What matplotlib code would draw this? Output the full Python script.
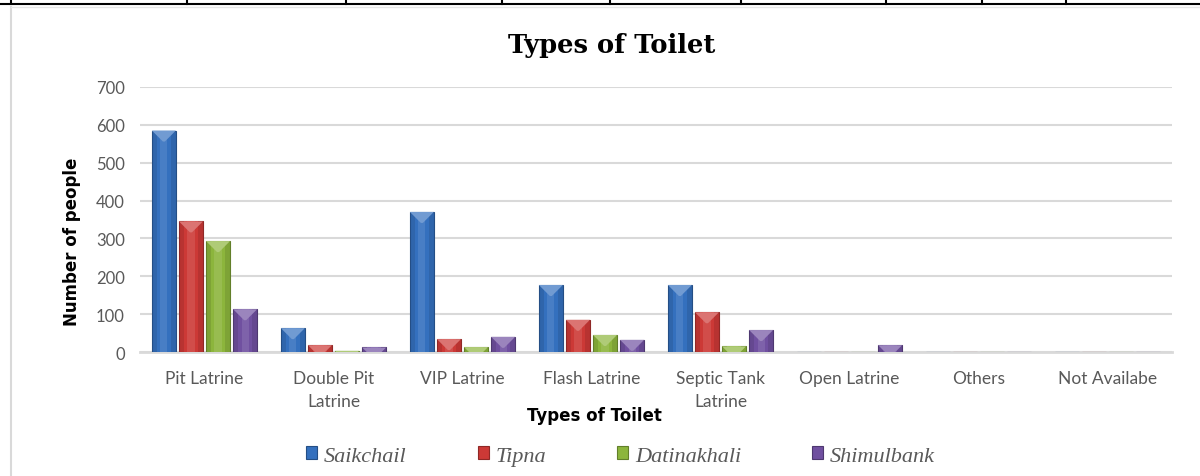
import numpy as np
import matplotlib.pyplot as plt
from matplotlib.patches import Polygon, Rectangle
from matplotlib.lines import Line2D
import matplotlib.colors as mcolors

categories = ["Pit Latrine", "Double Pit\nLatrine", "VIP Latrine", "Flash Latrine",
              "Septic Tank\nLatrine", "Open Latrine", "Others", "Not Availabe"]
saikchail = [585, 63, 370, 177, 177, 0, 0, 0]
tipna = [345, 18, 34, 85, 105, 0, 0, 0]
datinakhali = [293, 3, 13, 45, 15, 0, 0, 0]
shimulbank = [113, 12, 40, 32, 58, 18, 0, 0]

series = [("Saikchail", saikchail, "#3470BE"),
          ("Tipna", tipna, "#CC3936"),
          ("Datinakhali", datinakhali, "#8CB53C"),
          ("Shimulbank", shimulbank, "#7050A0")]

W, H, DPI = 1200, 477, 100
fig = plt.figure(figsize=(W / DPI, H / DPI), dpi=DPI)
ax = fig.add_axes([140 / W, 1 - 353 / H, 1032 / W, 265 / H])

ax.set_xlim(-0.5, len(categories) - 0.5)
ax.set_ylim(0, 700)

# pixel -> data conversions used for the bevelled tops
px_x = (len(categories)) / 1032
px_y = 700 / 265

step = 0.21
width = 0.186
x = np.arange(len(categories))


def shade(c, f):
    r, g, b = mcolors.to_rgb(c)
    if f >= 1:
        return (r + (1 - r) * (f - 1), g + (1 - g) * (f - 1), b + (1 - b) * (f - 1))
    return (r * f, g * f, b * f)


for i, (name, vals, col) in enumerate(series):
    xs = x + (i - 1.5) * step
    ax.bar(xs, vals, width, color=shade(col, 0.9), edgecolor=shade(col, 0.7), linewidth=0.8,
           zorder=3, label=name)
    # lighter middle band
    ax.bar(xs, vals, width * 0.6, color=col, linewidth=0, zorder=3.1)
    ax.bar(xs, vals, width * 0.3, color=shade(col, 1.1), linewidth=0, zorder=3.2)
    for xc, v in zip(xs, vals):
        if v <= 0:
            continue
        d_px = min(11, v / px_y)
        inset = min(d_px, 11.5) * px_x
        d = d_px * px_y
        l, r = xc - width / 2, xc + width / 2
        top = Polygon([(l, v), (r, v), (r - inset, v - d), (l + inset, v - d)],
                      closed=True, facecolor=shade(col, 1.3), edgecolor="none", zorder=3.3)
        ax.add_patch(top)

ax.set_yticks(range(0, 701, 100))
ax.grid(axis="y", color="#D9D9D9", linewidth=1.5, zorder=0)
ax.set_axisbelow(True)
for s in ["top", "right", "left"]:
    ax.spines[s].set_visible(False)
ax.spines["bottom"].set_color("#D9D9D9")
ax.spines["bottom"].set_linewidth(2)
ax.tick_params(length=0)
ax.tick_params(axis="y", pad=11, labelsize=12, labelcolor="#595959")
ax.tick_params(axis="x", pad=13, labelsize=12.5, labelcolor="#595959")
ax.set_xticks(x)
ax.set_xticklabels(categories, fontfamily="Lato", linespacing=1.5)
for t in ax.get_yticklabels():
    t.set_fontfamily("Lato")

ax.set_xlabel("Types of Toilet", fontfamily="DejaVu Sans", fontweight="bold", fontsize=12)
ax.xaxis.set_label_coords(0.44, -0.238)
ax.xaxis.label.set_va("center")
ax.set_ylabel("Number of people", fontfamily="DejaVu Sans", fontweight="bold", fontsize=12)
ax.yaxis.set_label_coords(-0.066, 0.42)
ax.yaxis.label.set_va("center")

fig.text(0.51, 0.905, "Types of Toilet", ha="center", va="center",
         fontfamily="DejaVu Serif", fontweight="bold", fontsize=18.5)

handles = [Rectangle((0, 0), 1, 1, facecolor=c, edgecolor=shade(c, 0.7), linewidth=0.8)
           for _, _, c in series]
fig.legend(handles, [n for n, _, _ in series], loc="center", bbox_to_anchor=(0.517, 0.042),
           ncol=4, frameon=False, handlelength=0.5, handleheight=0.5, handletextpad=0.3,
           columnspacing=3.2, prop={"family": "Liberation Serif", "style": "italic", "size": 16},
           labelcolor="#595959")

# surrounding document table border and chart frame
fig.add_artist(Line2D([0, 1], [1 - 5 / H, 1 - 5 / H], color="black", linewidth=1.5))
for xv in [11, 187, 346, 502, 610, 741, 886, 982, 1066]:
    fig.add_artist(Line2D([xv / W, xv / W], [1, 1 - 5 / H], color="black", linewidth=1.5))
fig.add_artist(Line2D([11 / W, 11 / W], [0, 1 - 8 / H], color="#D9D9D9", linewidth=1.5))
fig.add_artist(Line2D([11 / W, 1], [1 - 8 / H, 1 - 8 / H], color="#E6E6E6", linewidth=1))

fig.savefig("out.png", dpi=DPI)
